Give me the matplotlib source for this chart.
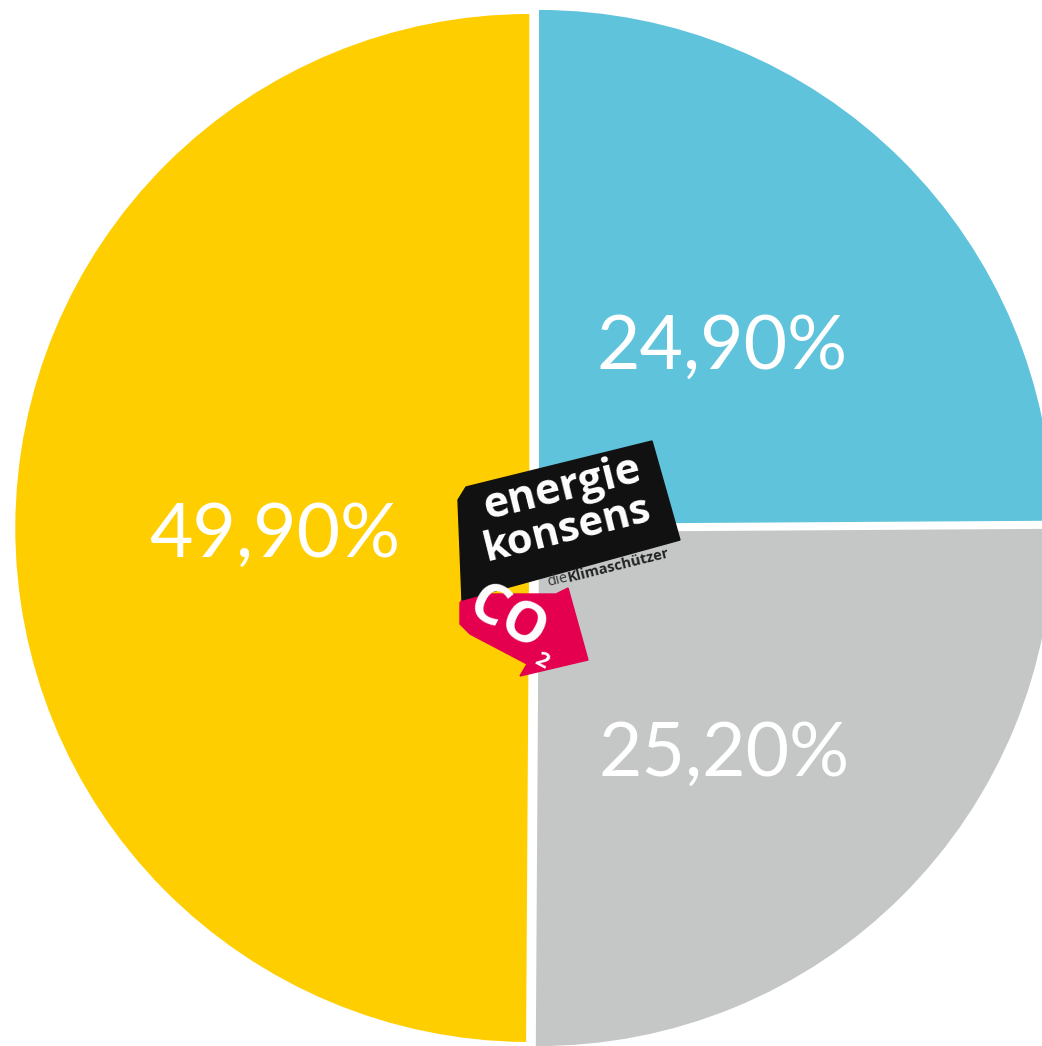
import matplotlib.pyplot as plt
from matplotlib.patches import Polygon

# Anteile (Prozent)
labels = ["Blau", "Grau", "Gelb"]
values = [24.9, 25.2, 49.9]
colors = ["#5FC3DC", "#C5C7C6", "#FFCE00"]

W, H = 1042, 1046
fig = plt.figure(figsize=(W / 100, H / 100), dpi=100)
ax = fig.add_axes([0, 0, 1, 1])

def fmt(p):
    return f"{p:.2f}%".replace(".", ",")

# explode wird in Dateneinheiten (Pixel) verschoben
wedges, texts, autotexts = ax.pie(
    values, colors=colors, startangle=90, counterclock=False,
    explode=[5.7] * 3, center=(535, H - 528), radius=514,
    autopct=fmt, pctdistance=0.52,
    textprops=dict(color="white", fontsize=54, family="Lato"),
)
# Textpositionen wie im Original
label_pos = [(722, 347), (724, 754), (275, 535)]
for t, (x, y) in zip(autotexts, label_pos):
    t.set_position((x, H - y))
    t.set_ha("center")
    t.set_va("center")

ax.set_xlim(0, W)
ax.set_ylim(0, H)
ax.set_aspect("auto")
ax.axis("off")

# Logo (Bildkoordinaten, y nach unten)
def fl(pts):
    return [(x, H - y) for x, y in pts]

pink = fl([(460, 603), (466, 594), (556, 594), (568, 588), (588, 660),
           (520, 676), (527, 664), (470, 634), (460, 624)])
ax.add_patch(Polygon(pink, closed=True, color="#E4004F", zorder=5))
black = fl([(458, 500), (466, 487), (652, 441), (680, 540), (462, 600)])
ax.add_patch(Polygon(black, closed=True, color="#111111", zorder=5))

logo_font = dict(family="Open Sans", weight="bold", color="white", zorder=6,
                 ha="center", va="center", rotation=14)
ax.text(562, H - 489, "energie", fontsize=31, **logo_font)
ax.text(567, H - 530, "konsens", fontsize=30, **logo_font)
ax.text(568, H - 578, "die", fontsize=10.5, family="Open Sans", color="#333333",
        rotation=14, rotation_mode="anchor", ha="right", va="center", zorder=6)
ax.text(568, H - 578, "Klimaschützer", fontsize=10.5, family="Open Sans",
        weight="bold", color="#222222", rotation=14, rotation_mode="anchor",
        ha="left", va="center", zorder=6)
co = dict(family="Open Sans", weight="bold", color="white", rotation=-28,
          ha="center", va="center", zorder=6)
ax.text(487, H - 609, "C", fontsize=40, **co)
ax.text(522, H - 628, "O", fontsize=40, **co)
ax.text(541, H - 661, "2", fontsize=16, **co)

fig.savefig("out.png", dpi=100)
